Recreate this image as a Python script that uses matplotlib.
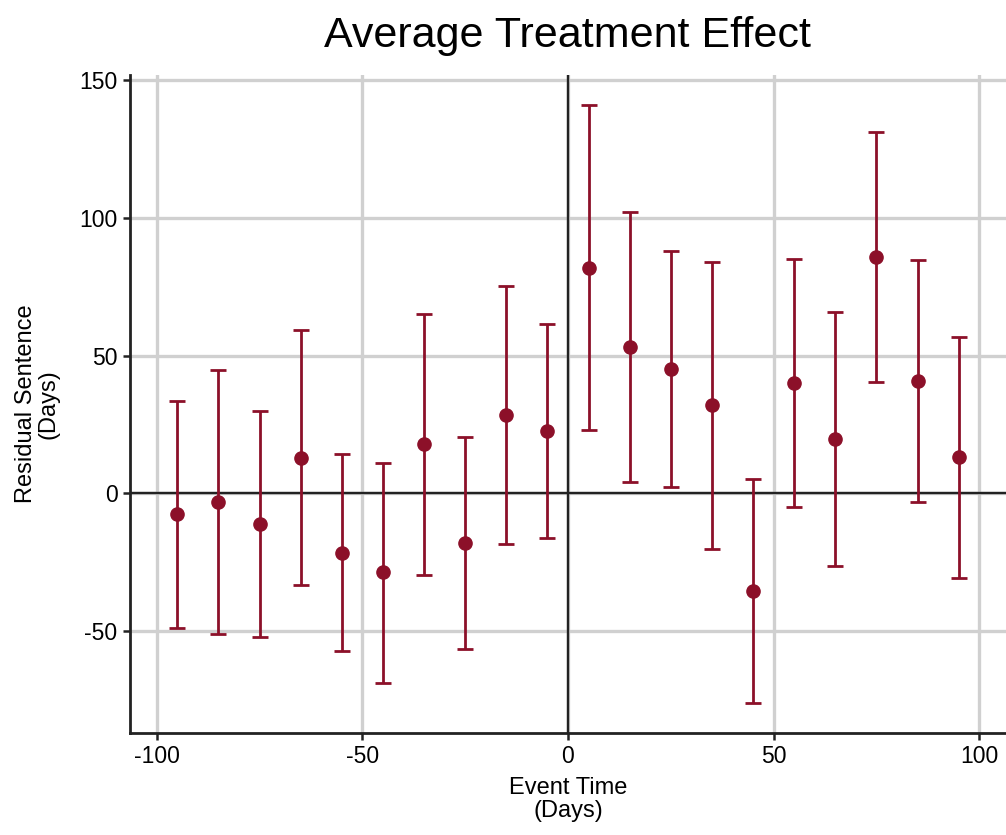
import matplotlib as mpl
import matplotlib.pyplot as plt

# event time bins (days) and estimates
event_time = [-95, -85, -75, -65, -55, -45, -35, -25, -15, -5,
              5, 15, 25, 35, 45, 55, 65, 75, 85, 95]
estimate = [-7.6, -3.0, -11.2, 13.0, -21.5, -28.7, 18.0, -18.1, 28.4, 22.6,
            82.0, 53.3, 45.2, 32.0, -35.3, 40.2, 19.9, 86.0, 40.8, 13.1]
ci_low = [-49.0, -50.9, -52.2, -33.2, -57.4, -68.7, -29.5, -56.6, -18.5, -16.3,
          23.0, 4.1, 2.5, -20.3, -76.0, -5.0, -26.2, 40.6, -3.2, -30.8]
ci_high = [33.7, 44.8, 30.1, 59.4, 14.5, 11.2, 65.3, 20.5, 75.4, 61.6,
           141.1, 102.4, 88.2, 84.1, 5.2, 85.3, 66.0, 131.4, 84.8, 57.0]

RED = "#8c1029"
GRID = "#d0d0d0"

mpl.rcParams.update({
    "font.family": "sans-serif",
    "font.sans-serif": ["Liberation Sans", "DejaVu Sans"],
    "axes.unicode_minus": False,
})

fig = plt.figure(figsize=(10.06, 8.35), dpi=100)
ax = fig.add_axes([0.1292, 0.1222, 0.8708, 0.788])

yerr = [[e - lo for e, lo in zip(estimate, ci_low)],
        [hi - e for e, hi in zip(estimate, ci_high)]]
ax.errorbar(event_time, estimate, yerr=yerr, fmt="o", color=RED, ms=9.5,
            elinewidth=2.0, capsize=5.8, capthick=2.0, zorder=4)

ax.axhline(0, color="#222222", lw=1.7, zorder=2)
ax.axvline(0, color="#222222", lw=1.7, zorder=2)

ax.set_xlim(-106.5, 106.5)
ax.set_ylim(-87, 152)
ax.set_xticks([-100, -50, 0, 50, 100])
ax.set_yticks([-50, 0, 50, 100, 150])
ax.grid(True, color=GRID, lw=2.4, zorder=0)
ax.set_axisbelow(True)

for s in ("top", "right"):
    ax.spines[s].set_visible(False)
for s in ("left", "bottom"):
    ax.spines[s].set_linewidth(2.0)
    ax.spines[s].set_color("#222222")
ax.tick_params(axis="both", labelsize=16.5, length=5, width=1.8, color="#222222",
               pad=4)

ax.set_xlabel("Event Time\n(Days)", fontsize=17, linespacing=1.05, labelpad=6)
ax.set_ylabel("Residual Sentence\n(Days)", fontsize=17, linespacing=1.05, labelpad=14)
ax.set_title("Average Treatment Effect", fontsize=31, pad=20)

fig.savefig("out.png", dpi=100)
